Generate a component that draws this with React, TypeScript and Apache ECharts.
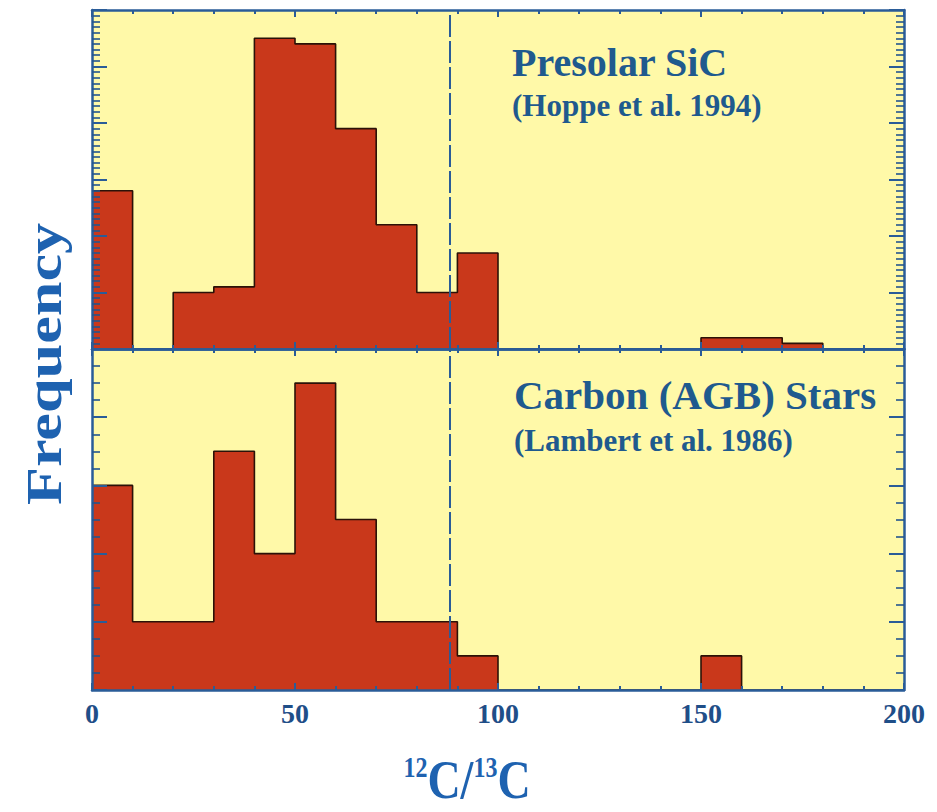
import React, { useEffect, useRef } from "react";
import * as echarts from "echarts";

// ---- data ----
const binStarts = [0, 10, 20, 30, 40, 50, 60, 70, 80, 90, 100, 110, 120, 130, 140, 150, 160, 170, 180, 190];
const binWidth = 10;
const presolarSiC = [28, 0, 10, 11, 55, 54, 39, 22, 10, 17, 0, 0, 0, 0, 0, 2, 2, 1, 0, 0];
const carbonStars = [12, 4, 4, 14, 8, 18, 10, 4, 4, 2, 0, 0, 0, 0, 0, 2, 0, 0, 0, 0];
const xTickLabels = ["0", "50", "100", "150", "200"];
const solarRatio = 88;
const topPanelTitle = "Presolar SiC";
const topPanelRef = "(Hoppe et al. 1994)";
const bottomPanelTitle = "Carbon (AGB) Stars";
const bottomPanelRef = "(Lambert et al. 1986)";

const AXIS_BLUE = "#2A5C98";
const TEXT_BLUE = "#1F5A8E";
const TITLE_BLUE = "#1E62B0";
const BAR_RED = "#C9381B";
const OUTLINE = "#2B1208";
const BG = "#FFF9A8";
const SERIF = '"Liberation Serif", "Times New Roman", serif';

function stepData(values: number[]) {
  const pts: number[][] = binStarts.map((x, i) => [x, values[i]]);
  const last = binStarts.length - 1;
  pts.push([binStarts[last] + binWidth, values[last]]);
  return pts;
}

function xAxis(gridIndex: number, position: "top" | "bottom", labels: boolean) {
  return {
    type: "value",
    gridIndex,
    position,
    min: 0,
    max: 200,
    interval: 50,
    z: 10,
    axisLine: { show: true, onZero: false, lineStyle: { color: AXIS_BLUE, width: 2.5 } },
    axisTick: { show: true, inside: true, length: 7, lineStyle: { color: AXIS_BLUE, width: 2 } },
    minorTick: { show: true, splitNumber: 5, length: 4, lineStyle: { color: AXIS_BLUE, width: 2 } },
    splitLine: { show: false },
    minorSplitLine: { show: false },
    axisLabel: labels
      ? {
          show: true,
          margin: 9,
          color: "#1F4E88",
          fontFamily: SERIF,
          fontWeight: "bold",
          fontSize: 28,
          formatter: (v: number) => xTickLabels[Math.round(v / 50)] ?? "",
        }
      : { show: false },
  };
}

function yAxis(gridIndex: number, position: "left" | "right", max: number, interval: number, minor: number) {
  return {
    type: "value",
    gridIndex,
    position,
    min: 0,
    max,
    interval,
    z: 10,
    axisLine: { show: true, onZero: false, lineStyle: { color: AXIS_BLUE, width: 2.5 } },
    axisTick: { show: true, inside: true, length: 15, lineStyle: { color: AXIS_BLUE, width: 2 } },
    minorTick: { show: true, splitNumber: minor, length: 8, lineStyle: { color: "#23558F", width: 1.6 } },
    splitLine: { show: false },
    minorSplitLine: { show: false },
    axisLabel: { show: false },
  };
}

function histSeries(values: number[], xi: number, yi: number) {
  return {
    type: "line",
    xAxisIndex: xi,
    yAxisIndex: yi,
    step: "end",
    symbol: "none",
    data: stepData(values),
    lineStyle: { color: OUTLINE, width: 1.6 },
    areaStyle: { color: BAR_RED, opacity: 1 },
    z: 2,
    markLine: {
      silent: true,
      symbol: "none",
      label: { show: false },
      lineStyle: { color: AXIS_BLUE, width: 2, type: [22, 4] },
      data: [{ xAxis: solarRatio }],
      z: 5,
    },
  };
}

export default function App() {
  const ref = useRef<HTMLDivElement>(null);
  useEffect(() => {
    document.body.style.margin = "0";
    if (!ref.current) return;
    const chart = echarts.init(ref.current, null, { renderer: "svg" });
    chart.setOption({
      animation: false,
      backgroundColor: "#ffffff",
      grid: [
        { left: 92, top: 10, width: 812, height: 339, show: true, backgroundColor: BG, borderWidth: 0 },
        { left: 92, top: 349, width: 812, height: 341, show: true, backgroundColor: BG, borderWidth: 0 },
      ],
      xAxis: [
        xAxis(0, "bottom", false),
        xAxis(0, "top", false),
        xAxis(1, "bottom", true),
        xAxis(1, "top", false),
      ],
      yAxis: [
        yAxis(0, "left", 60, 10, 10),
        yAxis(0, "right", 60, 10, 10),
        yAxis(1, "left", 20, 4, 4),
        yAxis(1, "right", 20, 4, 4),
      ],
      series: [histSeries(presolarSiC, 0, 0), histSeries(carbonStars, 2, 2)],
      graphic: [
        {
          type: "text",
          x: 44,
          y: 364,
          rotation: Math.PI / 2,
          scaleX: 1.22,
          style: {
            text: "Frequency",
            font: `bold 51px ${SERIF}`,
            fill: TITLE_BLUE,
            align: "center",
            verticalAlign: "middle",
          },
        },
        {
          type: "text",
          x: 512,
          y: 62,
          style: { text: topPanelTitle, font: `bold 40px ${SERIF}`, fill: TEXT_BLUE, align: "left", verticalAlign: "middle" },
        },
        {
          type: "text",
          x: 512,
          y: 105,
          style: { text: topPanelRef, font: `bold 31px ${SERIF}`, fill: TEXT_BLUE, align: "left", verticalAlign: "middle" },
        },
        {
          type: "text",
          x: 514,
          y: 395,
          style: { text: bottomPanelTitle, font: `bold 41px ${SERIF}`, fill: TEXT_BLUE, align: "left", verticalAlign: "middle" },
        },
        {
          type: "text",
          x: 514,
          y: 440,
          style: { text: bottomPanelRef, font: `bold 31px ${SERIF}`, fill: TEXT_BLUE, align: "left", verticalAlign: "middle" },
        },
        {
          type: "text",
          x: 467,
          y: 780,
          scaleY: 1.2,
          style: {
            text: "{s|12}{c|C/}{s|13}{c|C}",
            align: "center",
            verticalAlign: "middle",
            rich: {
              s: { font: `bold 24px ${SERIF}`, fill: TITLE_BLUE, verticalAlign: "top" },
              c: { font: `bold 46px ${SERIF}`, fill: TITLE_BLUE },
            },
          },
        },
      ],
    });
    return () => chart.dispose();
  }, []);
  return <div ref={ref} style={{ width: 937, height: 812 }} />;
}
